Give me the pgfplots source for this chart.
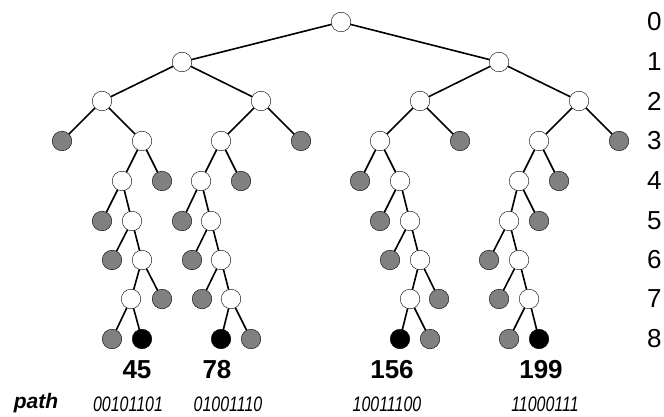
\documentclass[border=0pt]{standalone}
\usepackage{fontspec}
\setmainfont{Liberation Sans}
\usepackage{pgfplots}
\pgfplotsset{compat=1.18}
\definecolor{leafgrey}{RGB}{128,128,128}
\tikzset{treenode/.style={only marks, mark=*, mark size=9.8pt,
    mark options={draw=black, line width=1.5pt}}}
\tikzset{val/.style={font=\bfseries\fontsize{26}{26}\selectfont}}
\tikzset{bits/.style={font=\itshape\fontsize{21}{21}\selectfont, xscale=0.76}}
\tikzset{lvl/.style={anchor=west, inner sep=0pt, font=\fontsize{26}{26}\selectfont}}
\begin{document}
\begin{tikzpicture}
\begin{axis}[
    width=664pt, height=417pt, scale only axis, hide axis,
    xmin=0, xmax=664, ymin=0, ymax=417, y dir=reverse,
    clip=false, unbounded coords=jump,
]
% keep the whole axis area as the picture
\path (axis cs:0,0) rectangle (axis cs:664,417);
% edges: child - parent - child, separated by jumps
\addplot[black, line width=1.6pt] coordinates {
(182,62)(341,22)(499,62)(nan,nan)
(102,101)(182,62)(261,101)(nan,nan)
(420,101)(499,62)(579,101)(nan,nan)
(62,141)(102,101)(142,141)(nan,nan)
(221,141)(261,101)(301,141)(nan,nan)
(380,141)(420,101)(460,141)(nan,nan)
(539,141)(579,101)(619,141)(nan,nan)
(122,181)(142,141)(162,181)(nan,nan)
(201,181)(221,141)(241,181)(nan,nan)
(360,181)(380,141)(400,181)(nan,nan)
(519,181)(539,141)(559,181)(nan,nan)
(102,221)(122,181)(132,221)(nan,nan)
(182,221)(201,181)(211,221)(nan,nan)
(380,221)(400,181)(410,221)(nan,nan)
(509,221)(519,181)(539,221)(nan,nan)
(112,260)(132,221)(142,260)(nan,nan)
(192,260)(211,221)(221,260)(nan,nan)
(390,260)(410,221)(420,260)(nan,nan)
(489,260)(509,221)(519,260)(nan,nan)
(131,299)(142,260)(162,299)(nan,nan)
(202,299)(221,260)(231,299)(nan,nan)
(410,299)(420,260)(439,299)(nan,nan)
(499,299)(519,260)(529,299)(nan,nan)
(112,339)(131,299)(142,339)(nan,nan)
(221,339)(231,299)(251,339)(nan,nan)
(400,339)(410,299)(430,339)(nan,nan)
(509,339)(529,299)(539,339)
};
% internal (white) nodes
\addplot[treenode, mark options={fill=white}] coordinates {
(341,22)
(182,62)(499,62)
(102,101)(261,101)(420,101)(579,101)
(142,141)(221,141)(380,141)(539,141)
(122,181)(201,181)(400,181)(519,181)
(132,221)(211,221)(410,221)(509,221)
(142,260)(221,260)(420,260)(519,260)
(131,299)(231,299)(410,299)(529,299)
};
% pruned (grey) nodes
\addplot[treenode, mark options={fill=leafgrey}] coordinates {
(62,141)(301,141)(460,141)(619,141)
(162,181)(241,181)(360,181)(559,181)
(102,221)(182,221)(380,221)(539,221)
(112,260)(192,260)(390,260)(489,260)
(162,299)(202,299)(439,299)(499,299)
(112,339)(251,339)(430,339)(509,339)
};
% target leaves (black)
\addplot[treenode, mark options={fill=black}] coordinates {
(142,339)(221,339)(400,339)(539,339)
};
% leaf values
\node[val] at (axis cs:137,370) {45};
\node[val] at (axis cs:217,370) {78};
\node[val] at (axis cs:392,370) {156};
\node[val] at (axis cs:541,370) {199};
% paths
\node[font=\bfseries\itshape\fontsize{21}{21}\selectfont] at (axis cs:36,403) {path};
\node[bits] at (axis cs:128,404) {00101101};
\node[bits] at (axis cs:228,404) {01001110};
\node[bits] at (axis cs:387,404) {10011100};
\node[bits] at (axis cs:545,404) {11000111};
% level numbers
\node[lvl] at (axis cs:647,22) {0};
\node[lvl] at (axis cs:647,62) {1};
\node[lvl] at (axis cs:647,101) {2};
\node[lvl] at (axis cs:647,141) {3};
\node[lvl] at (axis cs:647,181) {4};
\node[lvl] at (axis cs:647,221) {5};
\node[lvl] at (axis cs:647,260) {6};
\node[lvl] at (axis cs:647,299) {7};
\node[lvl] at (axis cs:647,339) {8};
\end{axis}
\end{tikzpicture}
\end{document}
